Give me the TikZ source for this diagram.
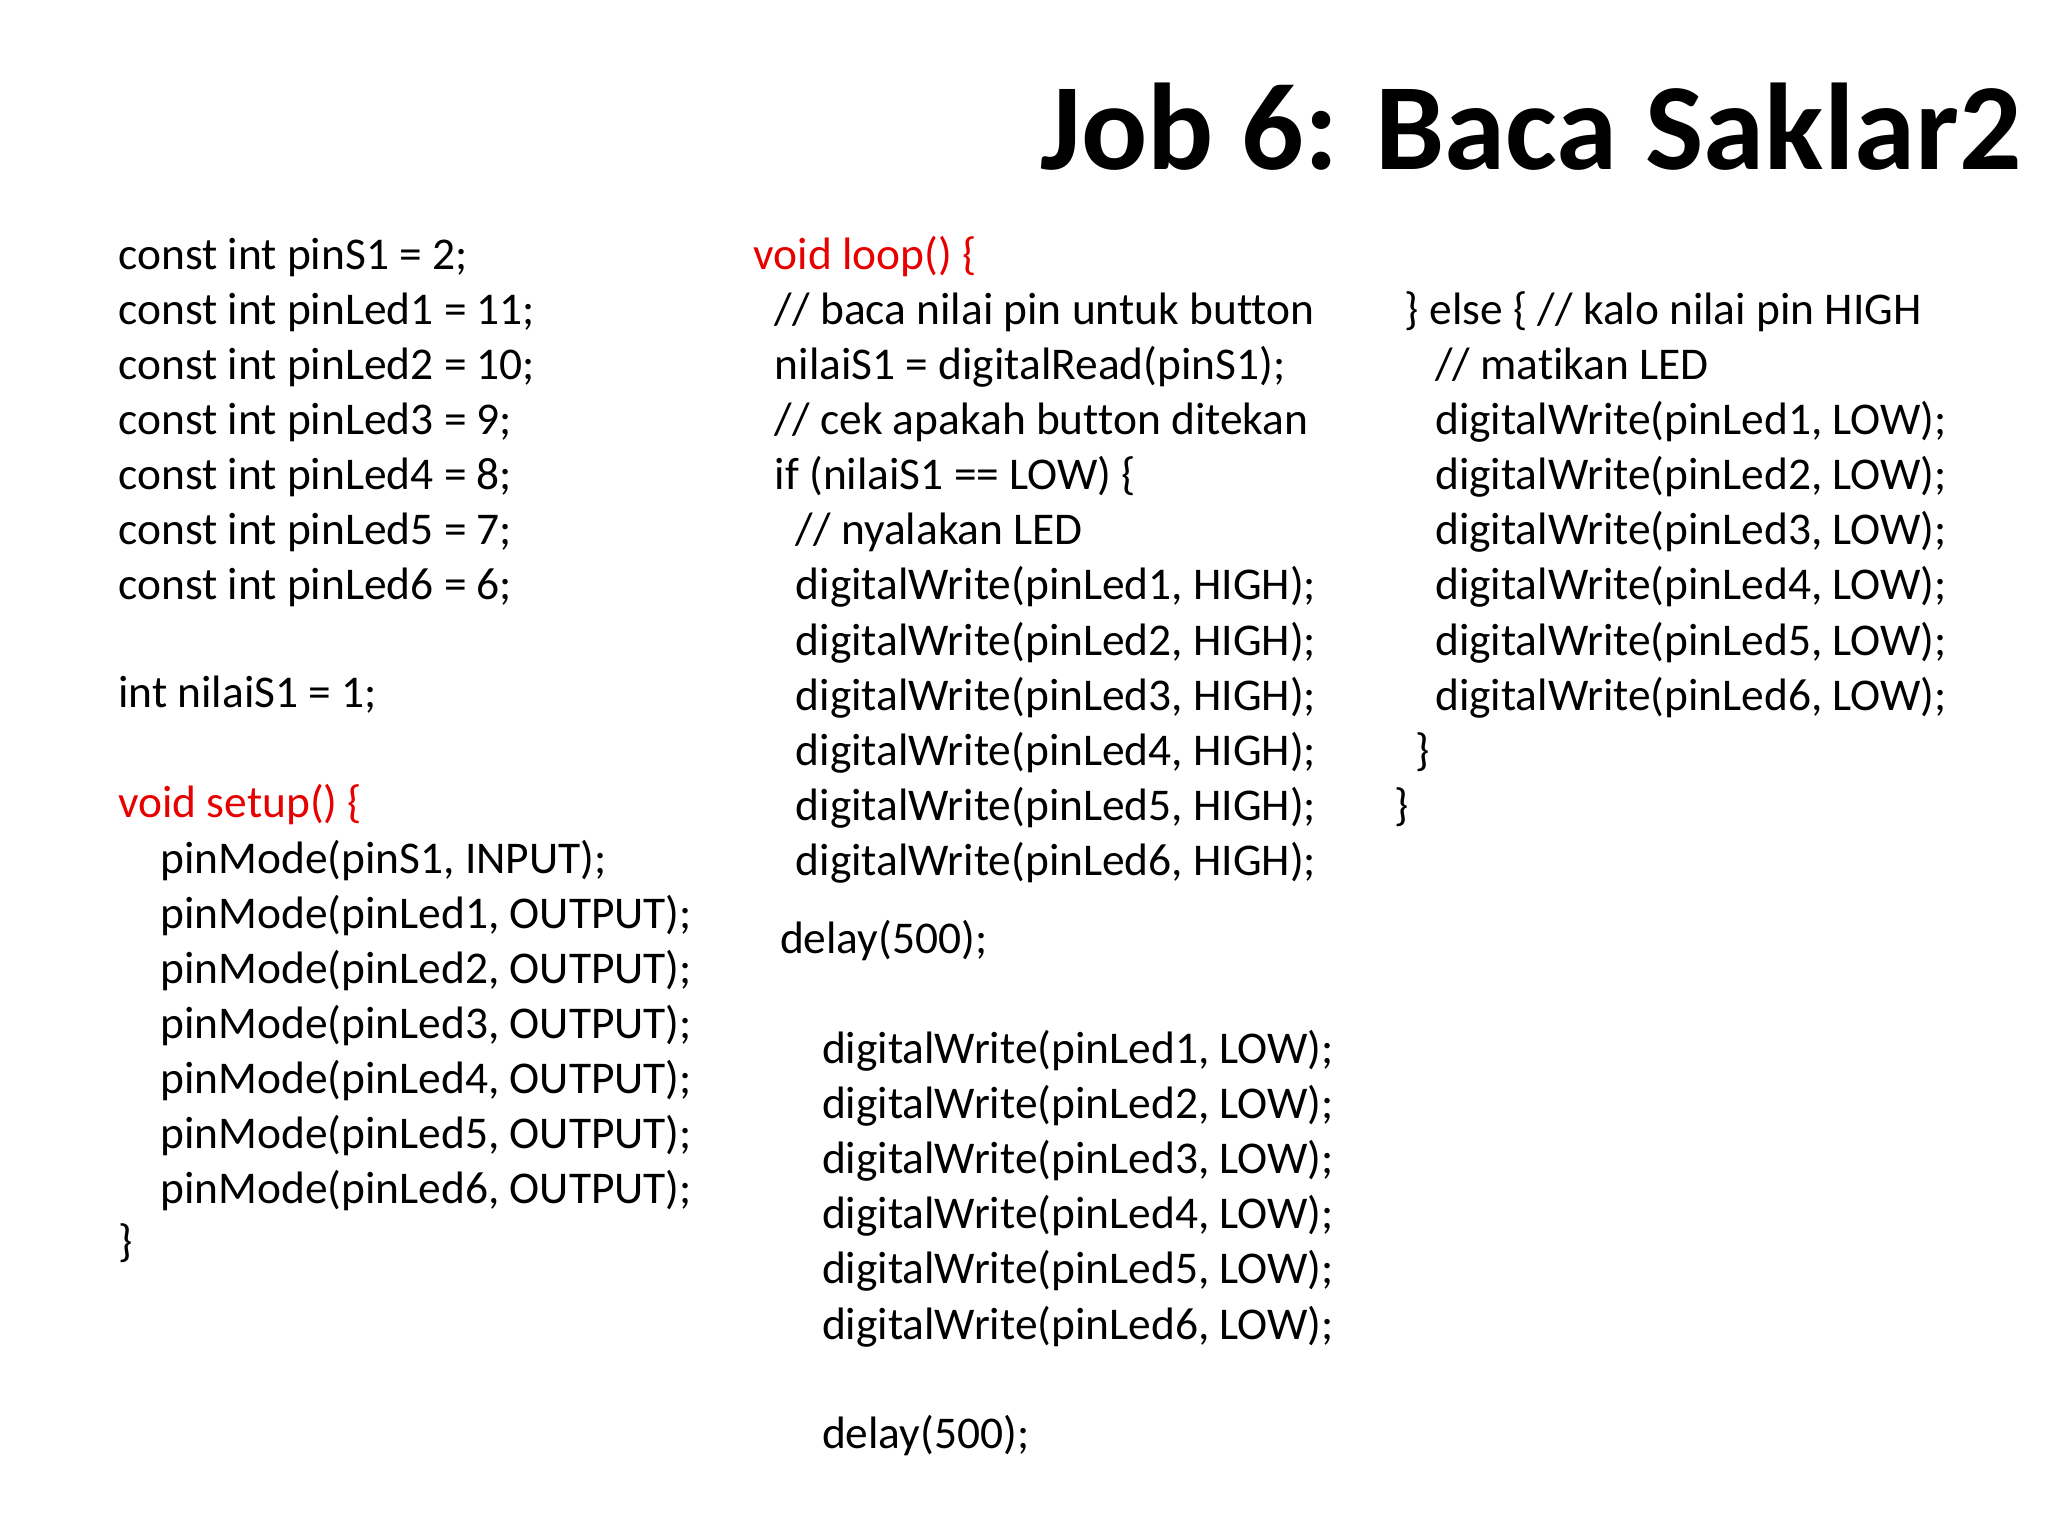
\documentclass[tikz,border=0pt]{standalone}
\usepackage{fontspec}
\setmainfont{Carlito}[Ligatures=NoCommon]
\definecolor{kred}{RGB}{230,0,0}
\begin{document}
\begin{tikzpicture}[x=1pt,y=-1pt,
  code/.style={anchor=base west,inner sep=0pt,font=\fontsize{34.6}{40}\selectfont},
  red/.style={code,text=kred}]
\useasboundingbox (0,0) rectangle (1560,1170);
\node[anchor=base east,inner sep=0pt,font=\fontsize{94}{104}\selectfont\bfseries] (title) at (1540,129) {Job 6: Baca Saklar2};
% column 1
\node[code] (a1) at (90,205) {const int pinS1 = 2;};
\node[code] (a2) at (90,247) {const int pinLed1 = 11;};
\node[code] (a3) at (90,289) {const int pinLed2 = 10;};
\node[code] (a4) at (90,331) {const int pinLed3 = 9;};
\node[code] (a5) at (90,373) {const int pinLed4 = 8;};
\node[code] (a6) at (90,415) {const int pinLed5 = 7;};
\node[code] (a7) at (90,457) {const int pinLed6 = 6;};
\node[code] (a8) at (90,539) {int nilaiS1 = 1;};
\node[red] (a9) at (90,623) {void setup() \{};
\node[code] (b1) at (122,665) {pinMode(pinS1, INPUT);};
\node[code] (b2) at (122,707) {pinMode(pinLed1, OUTPUT);};
\node[code] (b3) at (122,749) {pinMode(pinLed2, OUTPUT);};
\node[code] (b4) at (122,791) {pinMode(pinLed3, OUTPUT);};
\node[code] (b5) at (122,833) {pinMode(pinLed4, OUTPUT);};
\node[code] (b6) at (122,875) {pinMode(pinLed5, OUTPUT);};
\node[code] (b7) at (122,917) {pinMode(pinLed6, OUTPUT);};
\node[code] (b8) at (90,957) {\}};
% column 2
\node[red] (c1) at (574,205) {void loop() \{};
\node[code] (c2) at (590,247) {// baca nilai pin untuk button};
\node[code] (c3) at (590,289) {nilaiS1 = digitalRead(pinS1);};
\node[code] (c4) at (590,331) {// cek apakah button ditekan};
\node[code] (c5) at (590,373) {if (nilaiS1 == LOW) \{};
\node[code] (c6) at (606,415) {// nyalakan LED};
\foreach \n [count=\i] in {1,...,6}
  \node[code] (d\n) at (606,415+42*\i) {digitalWrite(pinLed\n, HIGH);};
\node[code] (c7) at (594,726) {delay(500);};
\foreach \n [count=\i] in {1,...,6}
  \node[code] (e\n) at (626,768+42*\i) {digitalWrite(pinLed\n, LOW);};
\node[code] (c8) at (626,1103) {delay(500);};
% column 3
\node[code] (f0) at (1070,247) {\} else \{ // kalo nilai pin HIGH};
\node[code] (f1) at (1093,289) {// matikan LED};
\foreach \n [count=\i] in {1,...,6}
  \node[code] (g\n) at (1093,289+42*\i) {digitalWrite(pinLed\n, LOW);};
\node[code] (f2) at (1078,583) {\}};
\node[code] (f3) at (1062,625) {\}};
\end{tikzpicture}
\end{document}
